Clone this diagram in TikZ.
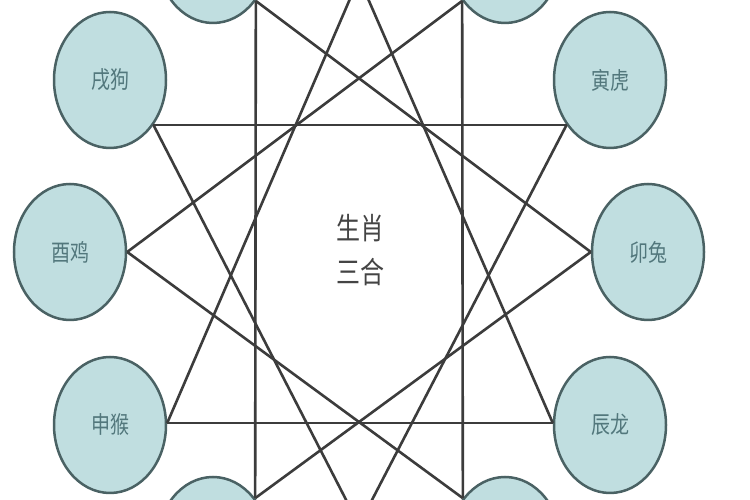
\documentclass[tikz,border=0pt]{standalone}
\usepackage{graphicx}
\usepackage{fontspec}
\newfontfamily\cjk{Noto Sans CJK SC}
\usetikzlibrary{shapes.geometric}
\definecolor{fillc}{HTML}{C0DEE0}
\definecolor{edgec}{HTML}{4A6264}
\definecolor{linec}{HTML}{3C3C3C}
\definecolor{txtc}{HTML}{52777C}
\definecolor{ctrc}{HTML}{444444}
\begin{document}
\begin{tikzpicture}[x=1pt,y=1pt,
  zod/.style={ellipse, draw=edgec, line width=2.5pt, fill=fillc,
    minimum width=112pt, minimum height=136pt, inner sep=0pt,
    font=\cjk\fontsize{19}{19}\selectfont, text=txtc},
  link/.style={draw=linec, line width=2.6pt},
  ctr/.style={align=center, font=\cjk\fontsize{24}{44}\selectfont, text=ctrc}]
\useasboundingbox (0,0) rectangle (750,500);
\clip (0,0) rectangle (750,500);
\fill[white] (0,0) rectangle (750,500);
% zodiac nodes
\node[zod] (xu)   at (110,420) {\scalebox{1}[1.25]{戌狗}};
\node[zod] (you)  at (70,248)  {\scalebox{1}[1.25]{酉鸡}};
\node[zod] (shen) at (110,75)  {\scalebox{1}[1.25]{申猴}};
\node[zod] (yin)  at (610,420) {\scalebox{1}[1.25]{寅虎}};
\node[zod] (mao)  at (648,248) {\scalebox{1}[1.25]{卯兔}};
\node[zod] (chen) at (610,75)  {\scalebox{1}[1.25]{辰龙}};
\node[zod] (hai)  at (213,545) {};
\node[zod] (chou) at (505,545) {};
\node[zod] (wei)  at (213,-45) {};
\node[zod] (si)   at (505,-45) {};
\coordinate (zi) at (359,522);
\coordinate (wu) at (359,-25);
% centre text
\node[ctr] (title) at (360,250) {\scalebox{1}[1.25]{生肖}\\\scalebox{1}[1.25]{三合}};
% triangles
\draw[link] (xu.-46) -- (yin.-134);
\draw[link] (xu.-46) -- (wu);
\draw[link] (yin.-134) -- (wu);
\draw[link] (shen.2) -- (chen.178);
\draw[link] (shen.2) -- (zi);
\draw[link] (chen.178) -- (zi);
\draw[link] (hai.-47) -- (wei.48);
\draw[link] (hai.-47) -- (mao.180);
\draw[link] (mao.180) -- (wei.48);
\draw[link] (chou.-133) -- (si.132);
\draw[link] (chou.-133) -- (you.0);
\draw[link] (you.0) -- (si.132);
\end{tikzpicture}
\end{document}
